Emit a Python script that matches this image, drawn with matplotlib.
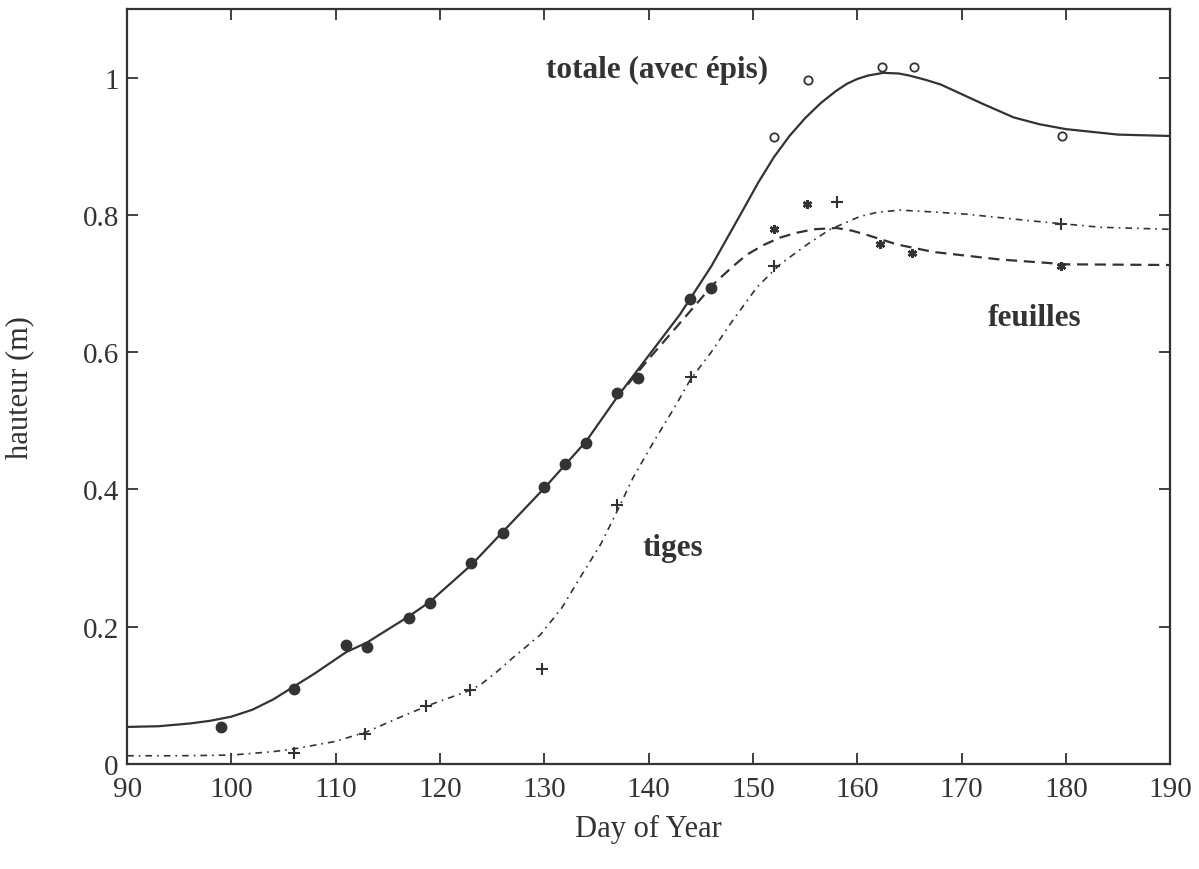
import matplotlib
matplotlib.use("Agg")
import matplotlib.pyplot as plt
import numpy as np

# measured points
days_early = [99, 106, 111, 113, 117, 119, 123, 126, 130, 132, 134, 137, 139, 144, 146]
h_early = [0.054, 0.109, 0.173, 0.171, 0.213, 0.234, 0.293, 0.336, 0.404, 0.437,
           0.468, 0.540, 0.563, 0.677, 0.694]

days_total = [152, 155.3, 162.4, 165.4, 179.6]
h_total = [0.913, 0.996, 1.016, 1.016, 0.915]

days_leaves = [152, 155.2, 162.2, 165.2, 179.5]
h_leaves = [0.780, 0.816, 0.758, 0.744, 0.726]

days_stems = [106, 112.8, 118.7, 122.9, 129.8, 137, 144.1, 152, 158.1, 179.5]
h_stems = [0.016, 0.043, 0.085, 0.108, 0.138, 0.377, 0.564, 0.725, 0.819, 0.787]

# fitted curves
curve_total_x = [90, 93, 96, 98, 100, 102, 104, 106, 108, 111, 113, 117, 119, 123, 126,
                 130, 134, 137, 140, 143, 146, 149, 150.5, 152, 153.5, 155, 156.5, 158,
                 159, 160, 161, 162.5, 164, 165, 166.5, 168, 170, 172, 175, 177.5, 180,
                 185, 190]
curve_total_y = [0.054, 0.055, 0.059, 0.063, 0.069, 0.079, 0.094, 0.113, 0.132, 0.163,
                 0.177, 0.215, 0.236, 0.290, 0.338, 0.402, 0.470, 0.535, 0.595, 0.655,
                 0.725, 0.806, 0.847, 0.884, 0.915, 0.941, 0.963, 0.981, 0.991, 0.998,
                 1.003, 1.007, 1.006, 1.003, 0.997, 0.990, 0.976, 0.962, 0.942, 0.932,
                 0.925, 0.917, 0.915]

curve_leaves_x = [138, 140, 142, 144, 146.2, 148, 149.4, 151, 152.6, 154.2, 155.8, 158,
                  159.5, 160.9, 163.8, 167.3, 173.7, 180.1, 190]
curve_leaves_y = [0.553, 0.590, 0.625, 0.660, 0.699, 0.724, 0.742, 0.756, 0.767, 0.774,
                  0.779, 0.781, 0.777, 0.771, 0.757, 0.746, 0.735, 0.728, 0.727]

curve_stems_x = [90, 95, 100, 104, 106, 110, 113, 116, 119, 121, 123, 124.1, 125.5, 127,
                 129.6, 131.7, 133.4, 135.4, 137, 138.5, 140.5, 142.5, 144, 146, 148,
                 150.4, 152.6, 155.2, 157.4, 160.3, 162, 164.1, 167.6, 170.5, 176.9,
                 183.3, 190]
curve_stems_y = [0.012, 0.012, 0.013, 0.018, 0.022, 0.033, 0.047, 0.067, 0.086, 0.097,
                 0.108, 0.118, 0.135, 0.155, 0.188, 0.228, 0.271, 0.320, 0.369, 0.417,
                 0.470, 0.520, 0.560, 0.600, 0.645, 0.695, 0.728, 0.757, 0.779, 0.798,
                 0.804, 0.807, 0.804, 0.801, 0.791, 0.782, 0.779]

ink = '#333333'
plt.rcParams['font.family'] = ['Liberation Serif', 'DejaVu Serif']

fig = plt.figure(figsize=(11.99, 8.7), dpi=100)
ax = fig.add_axes([0.106, 0.1207, 0.870, 0.8678])

ax.plot(curve_total_x, curve_total_y, color=ink, lw=1.6, ls='-')
ax.plot(curve_leaves_x, curve_leaves_y, color=ink, lw=1.6, ls=(0, (5, 3)))
ax.plot(curve_stems_x, curve_stems_y, color=ink, lw=1.2, ls=(0, (4, 3, 1, 3)))

ax.plot(days_early, h_early, 'o', color=ink, ms=7.5)
ax.plot(days_total, h_total, 'o', mfc='white', mec=ink, mew=1.3, ms=6)
ax.plot(days_leaves, h_leaves, ls='none', marker=(6, 2, 0), color=ink, mew=1.8, ms=6.5)
ax.plot(days_stems, h_stems, '+', color=ink, mew=1.5, ms=9)

ax.text(140.8, 1.012, 'totale (avec épis)', fontsize=22.5, fontweight='bold',
        color=ink, ha='center', va='center')
ax.text(177.0, 0.650, 'feuilles', fontsize=22.5, fontweight='bold',
        color=ink, ha='center', va='center')
ax.text(142.3, 0.316, 'tiges', fontsize=22.5, fontweight='bold',
        color=ink, ha='center', va='center')

ax.set_xlim(90, 190)
ax.set_ylim(0, 1.1)
ax.set_xticks(np.arange(90, 191, 10))
ax.set_yticks([0, 0.2, 0.4, 0.6, 0.8, 1])
ax.set_yticklabels(['0', '0.2', '0.4', '0.6', '0.8', '1'])
ax.tick_params(direction='in', length=8, width=1.3, colors=ink, labelsize=21,
               top=True, right=True)
ax.tick_params(axis='x', pad=8.5)
ax.tick_params(axis='y', pad=6)
for s in ax.spines.values():
    s.set_linewidth(1.6)
    s.set_color(ink)

ax.set_xlabel('Day of Year', fontsize=22, color=ink)
ax.set_ylabel('hauteur (m)', fontsize=22, color=ink)
ax.xaxis.set_label_coords(0.5, -0.066)
ax.yaxis.set_label_coords(-0.089, 0.5)

fig.savefig('out.png', dpi=100)
